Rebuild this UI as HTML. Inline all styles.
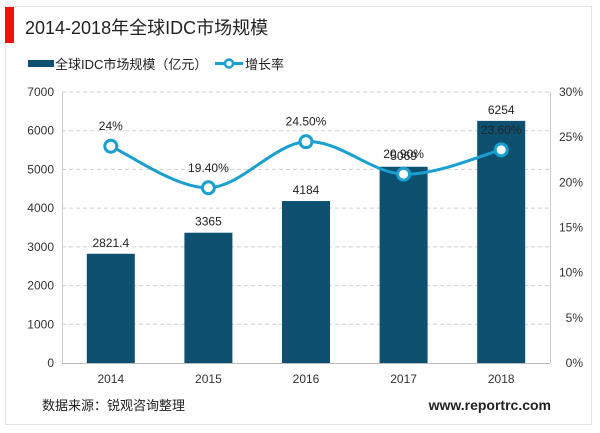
<!DOCTYPE html>
<html><head><meta charset="utf-8"><style>
body{margin:0;background:#fff;font-family:"Liberation Sans","Noto Sans CJK SC",sans-serif;}
#wrap{position:relative;width:600px;height:433px;overflow:hidden;}
</style></head><body>
<div id="wrap">
<svg id="svg" width="600" height="433" xmlns="http://www.w3.org/2000/svg" font-family="Liberation Sans, Noto Sans CJK SC, sans-serif">
<rect x="5.5" y="6.5" width="586" height="418" fill="#fff" stroke="#e3e3e3"/>
<rect x="5" y="7" width="9" height="36" fill="#ee1111"/>
<text x="25" y="34" font-size="18" fill="#222">2014-2018年全球IDC市场规模</text>
<g>
<rect x="28" y="60" width="26" height="7" fill="#0d5070"/>
<text x="55" y="69" font-size="13" fill="#222">全球IDC市场规模（亿元）</text>
<line x1="215" y1="63.5" x2="243" y2="63.5" stroke="#1aa0d0" stroke-width="3"/>
<circle cx="229" cy="63.5" r="4" fill="#fff" stroke="#1aa0d0" stroke-width="2.5"/>
<text x="245" y="69" font-size="13" fill="#222">增长率</text>
</g>
<g id="plot"></g>
<text x="42" y="410" font-size="13" fill="#222">数据来源：锐观咨询整理</text>
<text x="551" y="410" font-size="14" font-weight="bold" fill="#222" text-anchor="end">www.reportrc.com</text>
</svg>
</div>
<script>
const categories=["2014","2015","2016","2017","2018"];
const sizeValues=[2821.4,3365,4184,5069,6254];
const sizeLabels=["2821.4","3365","4184","5069","6254"];
const growthValues=[24,19.4,24.5,20.9,23.6];
const growthLabels=["24%","19.40%","24.50%","20.90%","23.60%"];
const leftTicks=[0,1000,2000,3000,4000,5000,6000,7000];
const rightTicks=[0,5,10,15,20,25,30];

const NS="http://www.w3.org/2000/svg";
const g=document.getElementById('plot');
const L=62,R=550,T=92,B=363;
const step=(R-L)/categories.length;
const xc=i=>L+step*(i+0.5);
const yL=v=>B-(v/7000)*(B-T);
const yR=v=>B-(v/30)*(B-T);
function mk(t,a){const e=document.createElementNS(NS,t);for(const k in a)e.setAttribute(k,a[k]);g.appendChild(e);return e;}

leftTicks.forEach(v=>{
  if(v>0){const l=mk('line',{x1:L,x2:R,y1:yL(v),y2:yL(v),stroke:'#d0d0d0','stroke-dasharray':'4,3'});
  
  }
  const t=mk('text',{x:L-8,y:yL(v)+4,'font-size':12,fill:'#333','text-anchor':'end'});t.textContent=v;
  
  
});
rightTicks.forEach(v=>{
  const t=mk('text',{x:583,y:yR(v)+4,'font-size':12,fill:'#333','text-anchor':'end'});t.textContent=v+'%';
  
  
});
const ax=mk('line',{x1:L,x2:R,y1:B+0.5,y2:B+0.5,stroke:'#bbb'});


const la=mk('line',{x1:L+0.5,x2:L+0.5,y1:T,y2:B,stroke:'#ccc'});


const ra=mk('line',{x1:R+0.5,x2:R+0.5,y1:T,y2:B,stroke:'#ccc'});



categories.forEach((c,i)=>{
  const b=mk('rect',{x:xc(i)-24,y:yL(sizeValues[i]),width:48,height:B-yL(sizeValues[i]),fill:'#0d5070'});
  
  
  const t=mk('text',{x:xc(i),y:yL(sizeValues[i])-7,'font-size':12,fill:'#222','text-anchor':'middle'});t.textContent=sizeLabels[i];
  
  
  const xl=mk('text',{x:xc(i),y:B+20,'font-size':12,fill:'#333','text-anchor':'middle'});xl.textContent=c;
  
  
});
// smooth line
const pts=growthValues.map((v,i)=>[xc(i),yR(v)]);
let d='M'+pts[0][0]+','+pts[0][1];
for(let i=0;i<pts.length-1;i++){
  const p0=pts[i-1]||pts[i],p1=pts[i],p2=pts[i+1],p3=pts[i+2]||p2;
  const c1=[p1[0]+(p2[0]-p0[0])/6,p1[1]+(p2[1]-p0[1])/6],c2=[p2[0]-(p3[0]-p1[0])/6,p2[1]-(p3[1]-p1[1])/6];
  d+=` C${c1[0]},${c1[1]} ${c2[0]},${c2[1]} ${p2[0]},${p2[1]}`;
}
const ln=mk('path',{d:d,fill:'none',stroke:'#1aa0d0','stroke-width':3});


pts.forEach((p,i)=>{
  const c=mk('circle',{cx:p[0],cy:p[1],r:6,fill:'#fff',stroke:'#1aa0d0','stroke-width':3});
  
  
  const t=mk('text',{x:p[0],y:p[1]-16,'font-size':12,fill:'#222','text-anchor':'middle'});t.textContent=growthLabels[i];
  
  
});
</script>
</body></html>
